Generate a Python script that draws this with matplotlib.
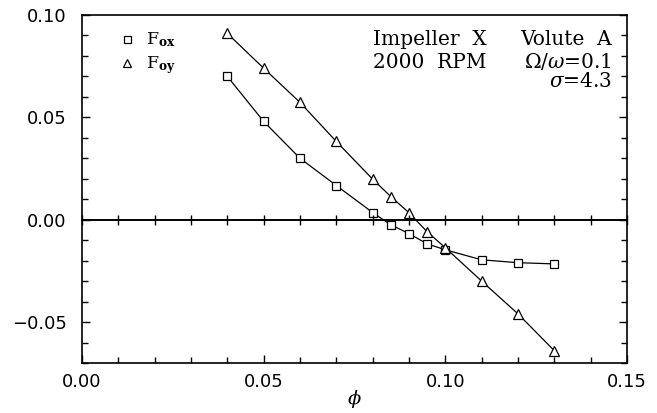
import matplotlib
matplotlib.use("Agg")
import matplotlib.pyplot as plt
from matplotlib.ticker import MultipleLocator

# flow coefficient
phi = [0.04, 0.05, 0.06, 0.07, 0.08, 0.085, 0.09, 0.095, 0.10, 0.11, 0.12, 0.13]
# steady forces
f_ox = [0.070, 0.048, 0.030, 0.0167, 0.0035, -0.0025, -0.0068, -0.0118, -0.0147, -0.0196, -0.0210, -0.0216]
f_oy = [0.091, 0.074, 0.0573, 0.0382, 0.0198, 0.0113, 0.0034, -0.0059, -0.0137, -0.0300, -0.0460, -0.0640]

plt.rcParams['mathtext.fontset'] = 'dejavuserif'

fig = plt.figure(figsize=(6.57, 4.13), dpi=100)
ax = fig.add_axes([0.1248, 0.1211, 0.8295, 0.8426])

ax.plot(phi, f_ox, color='black', lw=0.9, marker='s', ms=6.3, mfc='white',
        mec='black', mew=0.9, label=r'F$_{\mathbf{ox}}$', zorder=3)
ax.plot(phi, f_oy, color='black', lw=0.9, marker='^', ms=7, mfc='white',
        mec='black', mew=0.9, label=r'F$_{\mathbf{oy}}$', zorder=3)

ax.set_xlim(0, 0.15)
ax.set_ylim(-0.07, 0.10)
ax.xaxis.set_major_locator(MultipleLocator(0.05))
ax.xaxis.set_minor_locator(MultipleLocator(0.01))
ax.yaxis.set_major_locator(MultipleLocator(0.05))
ax.yaxis.set_minor_locator(MultipleLocator(0.01))
ax.tick_params(which='both', direction='in', top=True, right=True, width=1)
ax.tick_params(which='major', length=6, labelsize=13)
ax.tick_params(axis='x', pad=7)
ax.tick_params(axis='y', pad=11)
ax.tick_params(which='minor', length=4)
for lab in ax.get_xticklabels() + ax.get_yticklabels():
    lab.set_family('DejaVu Sans')
for s in ax.spines.values():
    s.set_linewidth(1.2)

# zero line with its own ticks
ax.axhline(0, color='black', lw=1.2)
ax2 = ax.twiny()
ax2.set_xlim(ax.get_xlim())
for k in ['top', 'left', 'right']:
    ax2.spines[k].set_visible(False)
ax2.spines['bottom'].set_position(('data', 0))
ax2.spines['bottom'].set_linewidth(1.2)
ax2.xaxis.set_ticks_position('bottom')
ax2.xaxis.set_major_locator(MultipleLocator(0.01))
ax2.tick_params(axis='x', direction='inout', length=7, width=1, labelbottom=False, labeltop=False)

ax.set_xlabel(r'$\phi$', fontsize=14, labelpad=-2)

leg = ax.legend(loc='upper left', frameon=False, prop={'family': 'DejaVu Serif', 'size': 12.5},
                handlelength=0.6, handletextpad=0.8, labelspacing=0.3, markerscale=0.8,
                bbox_to_anchor=(0.045, 1.0))
for ln in leg.get_lines():
    ln.set_linestyle('none')

# annotation block, two right-aligned columns
tfont = dict(family='DejaVu Serif', fontsize=14.5, ha='right', va='baseline',
             transform=ax.transAxes)
ax.text(0.742, 0.915, 'Impeller  X', **tfont)
ax.text(0.742, 0.848, '2000  RPM', **tfont)
ax.text(0.972, 0.915, 'Volute  A', **tfont)
ax.text(0.972, 0.848, r'$\Omega/\omega$=0.1', **tfont)
ax.text(0.972, 0.792, r'$\sigma$=4.3', **tfont)

fig.savefig('out.png', dpi=100)
